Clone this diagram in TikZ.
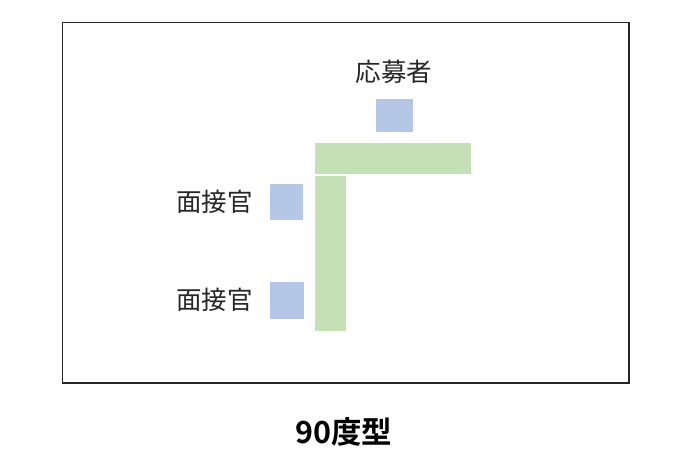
\documentclass[tikz,border=0pt]{standalone}
\usepackage{fontspec}
\newfontfamily\jp{Noto Sans CJK JP}
\newfontfamily\jpb{Noto Sans CJK JP Bold}
\definecolor{seatblue}{HTML}{B4C7E7}
\definecolor{deskgreen}{HTML}{C5E0B4}
\definecolor{txt}{HTML}{262626}
\begin{document}
\begin{tikzpicture}[x=1pt,y=-1pt,
  seat/.style={fill=seatblue},
  desk/.style={fill=deskgreen},
  lbl/.style={font=\jp\fontsize{25.5}{30}\selectfont, text=txt, inner sep=0pt}]
\useasboundingbox (0,0) rectangle (700,458);
\draw[line width=1.6pt, draw=black!85] (62.5,22.5) rectangle (629,383) coordinate (roomse);
% applicant
\fill[seat] (376,99) rectangle (413,132);
\node[lbl] (app) at (394,72) {応募者};
% desks
\fill[desk] (315,143) rectangle (471,174);
\fill[desk] (315,175.5) rectangle (346,330.5);
% interviewers
\fill[seat] (269.5,183.5) rectangle (303,219.5);
\node[lbl] (int1) at (214.5,202) {面接官};
\fill[seat] (270,282) rectangle (304,318.5);
\node[lbl] (int2) at (214.5,300) {面接官};
% title
\node[font=\jpb\fontsize{30.5}{36}\selectfont, text=black, inner sep=0pt] (title) at (343.5,432) {90度型};
\end{tikzpicture}
\end{document}
